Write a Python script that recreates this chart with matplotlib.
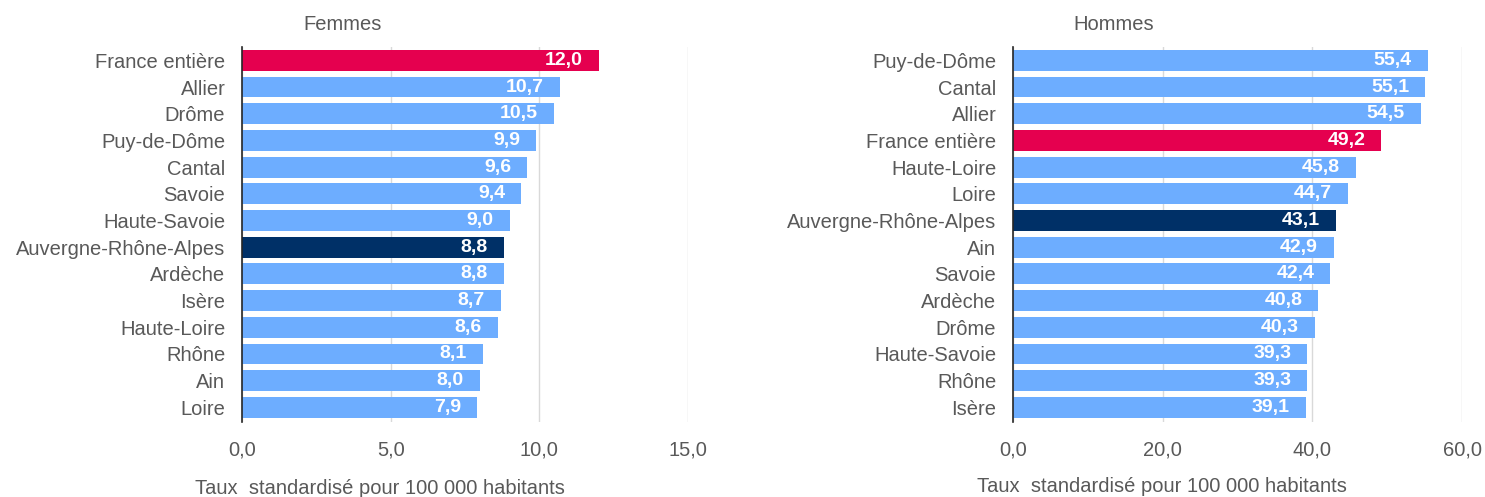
import matplotlib
matplotlib.use("Agg")
import matplotlib.pyplot as plt
from matplotlib.transforms import offset_copy

plt.rcParams['font.family'] = ['Liberation Sans', 'DejaVu Sans']

# Femmes
f_labels = ["France entière", "Allier", "Drôme", "Puy-de-Dôme", "Cantal", "Savoie",
            "Haute-Savoie", "Auvergne-Rhône-Alpes", "Ardèche", "Isère", "Haute-Loire",
            "Rhône", "Ain", "Loire"]
f_values = [12.0, 10.7, 10.5, 9.9, 9.6, 9.4, 9.0, 8.8, 8.8, 8.7, 8.6, 8.1, 8.0, 7.9]

# Hommes
h_labels = ["Puy-de-Dôme", "Cantal", "Allier", "France entière", "Haute-Loire", "Loire",
            "Auvergne-Rhône-Alpes", "Ain", "Savoie", "Ardèche", "Drôme", "Haute-Savoie",
            "Rhône", "Isère"]
h_values = [55.4, 55.1, 54.5, 49.2, 45.8, 44.7, 43.1, 42.9, 42.4, 40.8, 40.3, 39.3, 39.3, 39.1]

f_ticks = [0, 5, 10, 15]
h_ticks = [0, 20, 40, 60]

LIGHT = "#6DADFF"
FRANCE = "#E5004F"
REGION = "#003067"
GREY = "#595959"
GRID = "#D9D9D9"
FS = 14.5


def colour(name):
    if name == "France entière":
        return FRANCE
    if name == "Auvergne-Rhône-Alpes":
        return REGION
    return LIGHT


def fmt(v):
    return f"{v:.1f}".replace(".", ",")


def panel(ax, labels, values, ticks):
    y = list(range(len(labels)))
    ax.barh(y, values, height=0.78, color=[colour(n) for n in labels], zorder=2)
    ax.set_xlim(ticks[0], ticks[-1])
    ax.set_ylim(len(labels) - 0.45, -0.5)
    ax.set_yticks(y)
    ax.set_yticklabels(labels, fontsize=FS, color=GREY)
    ax.set_xticks(ticks)
    ax.set_xticklabels([fmt(t) for t in ticks], fontsize=FS, color=GREY)
    ax.tick_params(axis="both", length=0)
    ax.tick_params(axis="y", pad=12)
    ax.tick_params(axis="x", pad=13)
    ax.grid(axis="x", color=GRID, linewidth=1, zorder=0)
    for s in ("top", "right", "bottom"):
        ax.spines[s].set_visible(False)
    ax.spines["left"].set_color("#262626")
    ax.spines["left"].set_linewidth(1.2)
    ax.spines["left"].set_zorder(3)
    trans = offset_copy(ax.transData, fig=ax.figure, x=-16, y=0, units="dots")
    for yi, v in zip(y, values):
        ax.text(v, yi, fmt(v), ha="right", va="center", color="white",
                fontsize=14, fontweight="bold", transform=trans, zorder=4)


fig = plt.figure(figsize=(14.85, 4.97), dpi=100)
W, H = 1485, 497
ax1 = fig.add_axes([242 / W, 1 - 422 / H, (688 - 242) / W, (422 - 47) / H])
ax2 = fig.add_axes([1013 / W, 1 - 422 / H, (1462 - 1013) / W, (422 - 47) / H])

panel(ax1, f_labels, f_values, f_ticks)
panel(ax2, h_labels, h_values, h_ticks)

fig.text(343 / W, 1 - 25 / H, "Femmes", ha="center", va="center", fontsize=FS, color=GREY)
fig.text(1114 / W, 1 - 25 / H, "Hommes", ha="center", va="center", fontsize=FS, color=GREY)
fig.text(380 / W, 1 - 488 / H, "Taux  standardisé pour 100 000 habitants", ha="center",
         va="center", fontsize=FS, color=GREY)
fig.text(1162 / W, 1 - 486 / H, "Taux  standardisé pour 100 000 habitants", ha="center",
         va="center", fontsize=FS, color=GREY)

fig.savefig("out.png", dpi=100, facecolor="white")
